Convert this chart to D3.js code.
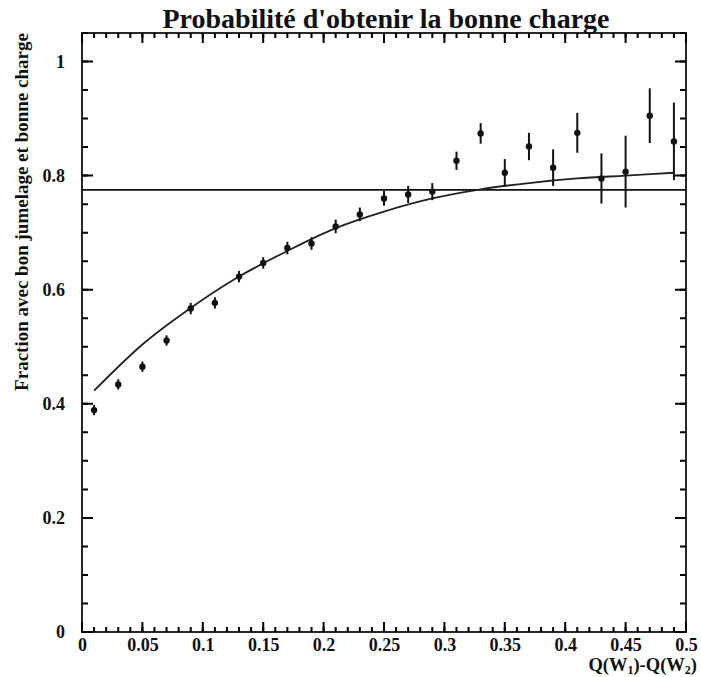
<!DOCTYPE html>
<html>
<head>
<meta charset="utf-8">
<script src="https://cdn.jsdelivr.net/npm/d3@7/dist/d3.min.js"></script>
<style>
body { margin: 0; background: #fff; }
text { font-family: "Liberation Serif", "DejaVu Serif", serif; font-weight: bold; fill: #111; }
</style>
</head>
<body>
<div id="container"></div>
<script>
// bin centres of Q(W1)-Q(W2) and measured fraction with its error
const bins = [0.01, 0.03, 0.05, 0.07, 0.09, 0.11, 0.13, 0.15, 0.17, 0.19,
              0.21, 0.23, 0.25, 0.27, 0.29, 0.31, 0.33, 0.35, 0.37, 0.39,
              0.41, 0.43, 0.45, 0.47, 0.49];
const fraction = [0.389, 0.434, 0.465, 0.511, 0.567, 0.577, 0.623, 0.647, 0.673, 0.681,
                  0.711, 0.732, 0.760, 0.767, 0.772, 0.826, 0.874, 0.805, 0.851, 0.814,
                  0.875, 0.795, 0.807, 0.905, 0.860];
const errors = [0.009, 0.009, 0.009, 0.009, 0.010, 0.010, 0.010, 0.010, 0.011, 0.011,
                0.012, 0.012, 0.013, 0.015, 0.015, 0.016, 0.018, 0.024, 0.024, 0.032,
                0.035, 0.044, 0.063, 0.048, 0.068];

// fitted curve
const fitX = [0.01, 0.05, 0.09, 0.13, 0.17, 0.21, 0.25, 0.29, 0.33, 0.37, 0.41, 0.45, 0.49];
const fitY = [0.423, 0.504, 0.568, 0.623, 0.668, 0.708, 0.737, 0.760, 0.776, 0.787, 0.795, 0.800, 0.805];

// constant level
const flatLevel = 0.775;

const xTicks = [0, 0.05, 0.1, 0.15, 0.2, 0.25, 0.3, 0.35, 0.4, 0.45, 0.5];
const xTickLabels = ["0", "0.05", "0.1", "0.15", "0.2", "0.25", "0.3", "0.35", "0.4", "0.45", "0.5"];
const yTicks = [0, 0.2, 0.4, 0.6, 0.8, 1];
const yTickLabels = ["0", "0.2", "0.4", "0.6", "0.8", "1"];

const width = 701, height = 677;
const frameL = 82, frameR = 686, frameT = 33, frameB = 632;

var svg = d3.select("#container")
    .append("svg")
    .attr("width", width)
    .attr("height", height);

let x = d3.scaleLinear().domain([0, 0.5]).range([frameL, frameR]);
let y = d3.scaleLinear().domain([0, 1.05]).range([frameB, frameT]);

let minorX = d3.range(0, 51).map(d => d / 100);
let minorY = d3.range(0, 22).map(d => d / 20);

// frame
svg.append("rect")
    .attr("x", frameL).attr("y", frameT)
    .attr("width", frameR - frameL).attr("height", frameB - frameT)
    .attr("fill", "none").attr("stroke", "#111").attr("stroke-width", 1.8);

// tick marks on all four sides, pointing inward (one path per set)
function xTickMarks(vals, len) {
    let p = d3.path();
    vals.forEach(d => {
        p.moveTo(x(d), frameB); p.lineTo(x(d), frameB - len);
        p.moveTo(x(d), frameT); p.lineTo(x(d), frameT + len);
    });
    svg.append("path")
        .attr("d", p.toString())
        .attr("fill", "none")
        .style("stroke", "#000").style("stroke-width", "2px");
}
function yTickMarks(vals, len) {
    let p = d3.path();
    vals.forEach(d => {
        p.moveTo(frameL, y(d)); p.lineTo(frameL + len, y(d));
        p.moveTo(frameR, y(d)); p.lineTo(frameR - len, y(d));
    });
    svg.append("path")
        .attr("d", p.toString())
        .attr("fill", "none")
        .style("stroke", "#000").style("stroke-width", "2px");
}
xTickMarks(minorX, 5);
xTickMarks(xTicks, 10);
yTickMarks(minorY, 6);
yTickMarks(yTicks, 11);

// tick labels
svg.append("g")
    .attr("class", "xaxis")
    .attr("transform", `translate(0,${frameB})`)
    .call(d3.axisBottom(x).tickValues(xTicks).tickSize(0).tickPadding(6)
        .tickFormat((d, i) => xTickLabels[i]));
svg.append("g")
    .attr("class", "yaxis")
    .attr("transform", `translate(${frameL},0)`)
    .call(d3.axisLeft(y).tickValues(yTicks).tickSize(0).tickPadding(17)
        .tickFormat((d, i) => yTickLabels[i]));

svg.selectAll(".domain").remove();
svg.selectAll(".xaxis text, .yaxis text")
    .style("font-family", '"Liberation Serif", serif')
    .style("font-weight", "bold")
    .style("font-size", "18px")
    .attr("fill", "#111");

// flat line
svg.append("line")
    .attr("x1", x(0)).attr("x2", x(0.5))
    .attr("y1", y(flatLevel)).attr("y2", y(flatLevel))
    .attr("stroke", "#111").attr("stroke-width", 1.8);

// fitted curve
let fit = fitX.map((d, i) => [d, fitY[i]]);
svg.append("path")
    .datum(fit)
    .attr("fill", "none")
    .attr("stroke", "#222")
    .attr("stroke-width", 1.8)
    .attr("d", d3.line().x(d => x(d[0])).y(d => y(d[1])).curve(d3.curveMonotoneX));

// error bars and points
let pts = bins.map((d, i) => ({ q: d, f: fraction[i], e: errors[i] }));
svg.selectAll(".err")
    .data(pts)
    .enter()
    .append("line")
    .attr("class", "err")
    .attr("x1", d => x(d.q)).attr("x2", d => x(d.q))
    .attr("y1", d => y(d.f - d.e)).attr("y2", d => y(d.f + d.e))
    .attr("stroke", "#111").attr("stroke-width", 2);
svg.selectAll(".pt")
    .data(pts)
    .enter()
    .append("circle")
    .attr("class", "pt")
    .attr("cx", d => x(d.q)).attr("cy", d => y(d.f))
    .attr("r", 3.2)
    .attr("fill", "#111");

// title
svg.append("text")
    .attr("x", 386).attr("y", 28)
    .attr("text-anchor", "middle")
    .style("font-size", "28px")
    .text("Probabilité d'obtenir la bonne charge");

// y title
svg.append("text")
    .attr("transform", "translate(28,212) rotate(-90)")
    .attr("text-anchor", "middle")
    .style("font-size", "19px")
    .text("Fraction avec bon jumelage et bonne charge");

// x title
let xt = svg.append("text")
    .attr("x", 697).attr("y", 671)
    .attr("text-anchor", "end")
    .style("font-size", "18.5px");
xt.append("tspan").text("Q(W");
xt.append("tspan").attr("dy", 3).style("font-size", "12px").text("1");
xt.append("tspan").attr("dy", -3).text(")-Q(W");
xt.append("tspan").attr("dy", 3).style("font-size", "12px").text("2");
xt.append("tspan").attr("dy", -3).text(")");
</script>
</body>
</html>
